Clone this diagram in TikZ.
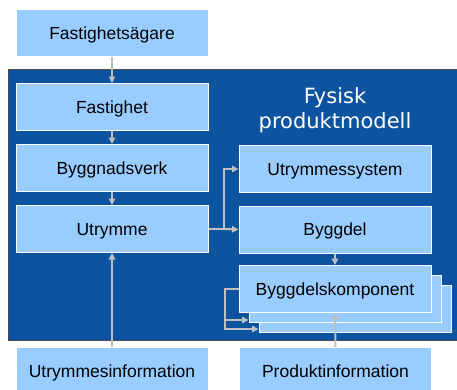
\documentclass[tikz,border=0pt]{standalone}
\usepackage{fontspec}
\setmainfont{Liberation Sans}
\newfontfamily\titlefont{DejaVu Sans}
\usetikzlibrary{arrows.meta}
\definecolor{lightbox}{RGB}{153,204,255}
\definecolor{darkarea}{RGB}{12,84,160}
\definecolor{linkgray}{RGB}{191,191,191}
\tikzset{
	box/.style={draw=white, line width=1pt, fill=lightbox, minimum width=192pt, minimum height=47pt, inner sep=0pt, text height=16pt, text depth=3.7pt, font=\fontsize{17.5}{20}\selectfont},
	link/.style={draw=linkgray, line width=2pt, -{Triangle[length=6.5pt,width=6.5pt]}},
	plain/.style={draw=linkgray, line width=2pt}
}

\begin{document}
\begin{tikzpicture}[x=1pt,y=-1pt]
			%%%%% START %%%%%
			\useasboundingbox (0, 0) rectangle (457, 389);
			\draw[fill=darkarea, draw=black!70] (8, 69) rectangle (462, 340);
			
			\node[text=white, align=center, font=\titlefont\fontsize{21}{25}\selectfont] (title) at (335, 110) {Fysisk\\produktmodell};
			
			\node[box] (owner) at (112, 33) {Fastighetsägare};
			\node[box] (estate) at (112, 107) {Fastighet};
			\node[box] (building) at (112, 168) {Byggnadsverk};
			\node[box] (space) at (112, 229) {Utrymme};
			\node[box] (spaceinfo) at (112, 371) {Utrymmesinformation};
			
			\node[box] (spacesys) at (335, 169) {Utrymmessystem};
			\node[box] (part) at (335, 229.5) {Byggdel};
			\node[box] (comp3) at (355, 309) {};
			\node[box] (comp2) at (345, 299) {};
			\node[box] (comp) at (335, 289) {Byggdelskomponent};
			\node[box] (prodinfo) at (335.5, 371) {Produktinformation};
			
			\draw[link] (owner) -- (estate);
			\draw[link] (estate) -- (building);
			\draw[link] (building) -- (space);
			\draw[link] (spaceinfo) -- (space);
			
			\coordinate (split) at (224, 229);
			\draw[plain] (space.east) -- (split);
			\draw[link] (split) -- (part.west);
			\draw[link] (split) |- (spacesys.west);
			
			\draw[link] (part) -- (comp);
			\draw[link] (prodinfo) -- (comp);
			
			\draw[link] (comp.west) -- ++(-14, 0) |- ([yshift=3pt]comp2.south west);
			\draw[link] (comp.west) -- ++(-14, 0) |- ([yshift=4pt]comp3.south west);
			%%%%% END %%%%%
\end{tikzpicture}
\end{document}
